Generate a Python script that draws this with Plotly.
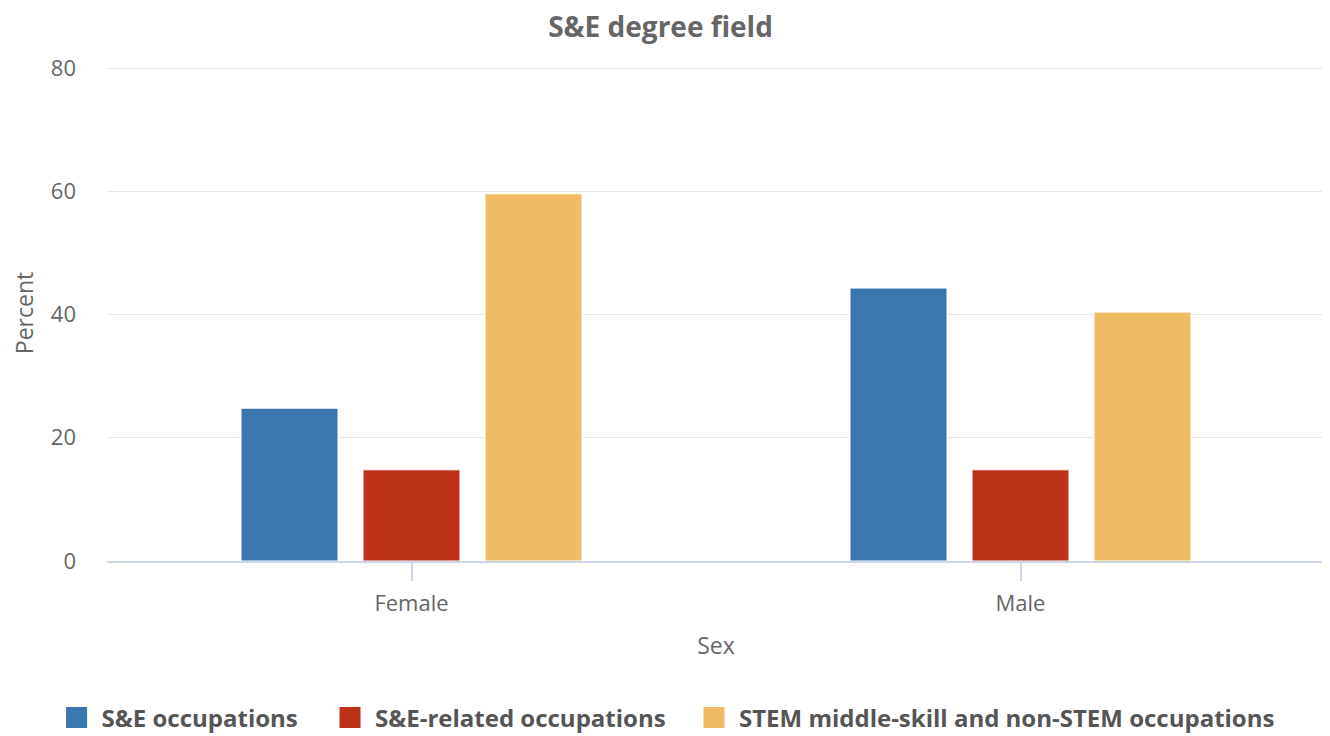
import plotly.graph_objects as go

categories = ["Female", "Male"]
series_names = ["S&E occupations", "S&E-related occupations", "STEM middle-skill and non-STEM occupations"]
se_occ = [24.8, 44.3]
se_related = [14.8, 14.8]
stem_middle = [59.6, 40.4]
colors = ["#3a77af", "#bd3116", "#f0bb62"]

fig = go.Figure()
for name, vals, c in zip(series_names, [se_occ, se_related, stem_middle], colors):
    fig.add_trace(go.Bar(x=categories, y=vals, name=name, showlegend=False,
                         marker=dict(color=c, line=dict(color="white", width=1))))
# legend entries with larger square symbols, one legend each for exact spacing
legend_ids = ["legend", "legend2", "legend3"]
legend_x = [-0.0455, 0.1790, 0.4778]
for name, c, lid in zip(series_names, colors, legend_ids):
    fig.add_trace(go.Scatter(x=[None], y=[None], mode="markers", name=name, legend=lid,
                             marker=dict(symbol="square", size=24, color=c, line=dict(color=c, width=5))))

legend_common = dict(orientation="h", xanchor="left", y=-0.3165, yanchor="middle",
                     font=dict(size=24, color="#555555", family="Open Sans", weight="bold"),
                     itemwidth=40, bgcolor="rgba(0,0,0,0)")

fig.update_layout(
    width=1322, height=728,
    plot_bgcolor="white", paper_bgcolor="white",
    font=dict(family="Open Sans", color="#666666", size=22),
    title=dict(text="<b>S&E degree field</b>", x=0.4936, xanchor="center", y=0.974, yanchor="middle",
               font=dict(size=28, color="#666666", family="Open Sans")),
    margin=dict(l=99, r=5, t=57, b=175, autoexpand=False),
    bargap=0.399, bargroupgap=0.205,
    legend=dict(x=legend_x[0], **legend_common),
    legend2=dict(x=legend_x[1], **legend_common),
    legend3=dict(x=legend_x[2], **legend_common),
    showlegend=True,
)
fig.update_xaxes(showline=True, linecolor="#ccd6eb", linewidth=1.5, ticks="outside", tickcolor="#ccd6eb",
                 ticklen=18, tickwidth=1.5, tickfont=dict(size=22, color="#666666"), automargin=False,
                 ticklabelstandoff=4,
                 title=dict(text="Sex", font=dict(size=23, color="#666666"), standoff=22))
fig.update_yaxes(range=[0, 80.5], tickvals=[0, 20, 40, 60, 80], gridcolor="#e6e6e6", zeroline=False,
                 showline=False, automargin=False,
                 tickfont=dict(size=22, color="#666666"), ticklabelstandoff=30,
                 title=dict(text="Percent", font=dict(size=23, color="#666666"), standoff=22))
fig.write_html("out.html")
